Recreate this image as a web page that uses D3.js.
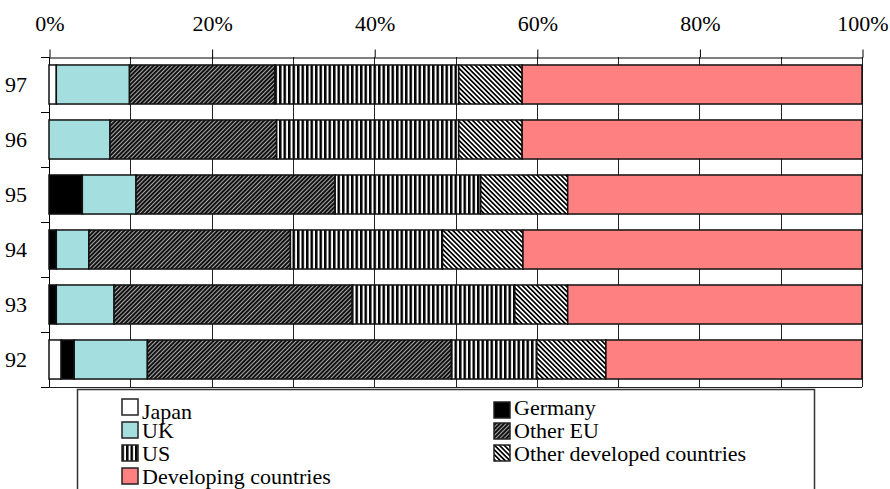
<!DOCTYPE html>
<html>
<head>
<meta charset="utf-8">
<script src="https://cdn.jsdelivr.net/npm/d3@7"></script>
<style>
  body { margin: 0; background: #fff; }
  svg text { font-family: "Liberation Serif", "Times New Roman", Times, "Nimbus Roman", "Nimbus Roman No9 L", "Noto Serif", "DejaVu Serif", FreeSerif, Tinos, serif !important; }
</style>
</head>
<body>
<svg class="barchart" width="890" height="489"></svg>
<script>
// years, top row first
var years = ['97', '96', '95', '94', '93', '92']
var series = ['Japan', 'Germany', 'UK', 'Other EU', 'US', 'Other developed countries', 'Developing countries']

// shares in % per year (same order as years)
var japan = [0.9, 0, 0, 0, 0, 1.5]
var germany = [0, 0, 4.1, 0.9, 0.9, 1.6]
var uk = [9.0, 7.5, 6.6, 4.0, 7.1, 9.0]
var otherEU = [17.9, 20.5, 24.5, 24.8, 29.3, 37.4]
var us = [22.6, 22.4, 17.9, 18.7, 20.0, 10.5]
var otherDev = [7.8, 7.8, 10.7, 9.9, 6.5, 8.5]
var developing = [41.8, 41.8, 36.2, 41.7, 36.2, 31.5]

var tickValues = [0, 20, 40, 60, 80, 100]
var gridValues = [0, 10, 20, 30, 40, 50, 60, 70, 80, 90, 100]

var data = years.map(function(y, i) {
  return {
    year: y,
    'Japan': japan[i],
    'Germany': germany[i],
    'UK': uk[i],
    'Other EU': otherEU[i],
    'US': us[i],
    'Other developed countries': otherDev[i],
    'Developing countries': developing[i]
  }
})

var fills = {
  'Japan': '#ffffff',
  'Germany': '#000000',
  'UK': '#a4dedf',
  'Other EU': 'url(#pEU)',
  'US': 'url(#pUS)',
  'Other developed countries': 'url(#pOD)',
  'Developing countries': '#ff8080'
}

const svg = d3.select('.barchart')
const plotLeft = 49, plotRight = 862, plotTop = 57, plotBottom = 387

// patterns
var defs = svg.append('defs')
var pEU = defs.append('pattern').attr('id', 'pEU')
  .attr('patternUnits', 'userSpaceOnUse').attr('width', 3).attr('height', 3)
  .attr('patternTransform', 'rotate(45)')
pEU.append('rect').attr('width', 3).attr('height', 3).attr('fill', '#111')
pEU.append('rect').attr('width', 1).attr('height', 3).attr('fill', '#aaa')

var pUS = defs.append('pattern').attr('id', 'pUS')
  .attr('patternUnits', 'userSpaceOnUse').attr('width', 4.5).attr('height', 13)
pUS.append('rect').attr('width', 4.5).attr('height', 13).attr('fill', '#fff')
pUS.append('rect').attr('width', 2.5).attr('height', 13).attr('fill', '#000')

var pOD = defs.append('pattern').attr('id', 'pOD')
  .attr('patternUnits', 'userSpaceOnUse').attr('width', 3.4).attr('height', 3.4)
  .attr('patternTransform', 'rotate(-45)')
pOD.append('rect').attr('width', 3.4).attr('height', 3.4).attr('fill', '#fff')
pOD.append('rect').attr('width', 1.7).attr('height', 3.4).attr('fill', '#000')

const xScale = d3.scaleLinear().domain([0, 100]).range([plotLeft, plotRight])
const yScale = d3.scaleBand().domain(years).range([plotTop, plotBottom])
  .paddingInner(0.29).paddingOuter(0.145)

// vertical grid lines
svg.append('g')
  .selectAll('line')
  .data(gridValues)
  .enter()
  .append('line')
  .attr('x1', d => Math.round(xScale(d)) + 0.5)
  .attr('x2', d => Math.round(xScale(d)) + 0.5)
  .attr('y1', plotTop)
  .attr('y2', plotBottom)
  .attr('stroke', '#222')
  .attr('stroke-width', 1)

// bottom frame line
svg.append('line')
  .attr('x1', plotLeft).attr('x2', plotRight)
  .attr('y1', plotBottom + 0.5).attr('y2', plotBottom + 0.5)
  .attr('stroke', '#222')

// top axis
svg.append('g')
  .attr('transform', `translate(0.5, ${plotTop + 0.5})`)
  .call(d3.axisTop(xScale).tickValues(tickValues).tickFormat(d => d + '%')
    .tickSize(8).tickSizeOuter(0).tickPadding(19))
  .attr('font-size', 22)
  .call(g => g.selectAll('text').attr('fill', '#000'))
  .call(g => g.selectAll('line, path').attr('stroke', '#000'))

// left axis line + ticks at band boundaries
svg.append('line')
  .attr('x1', plotLeft + 0.5).attr('x2', plotLeft + 0.5)
  .attr('y1', plotTop).attr('y2', plotBottom)
  .attr('stroke', '#000')
var boundaries = d3.range(years.length + 1).map(i => plotTop + i * yScale.step())
svg.append('g')
  .selectAll('line')
  .data(boundaries)
  .enter()
  .append('line')
  .attr('x1', plotLeft - 8).attr('x2', plotLeft)
  .attr('y1', d => Math.round(d) + 0.5).attr('y2', d => Math.round(d) + 0.5)
  .attr('stroke', '#000')

// year labels
svg.append('g')
  .selectAll('text')
  .data(years)
  .enter()
  .append('text')
  .attr('x', 27)
  .attr('y', d => yScale(d) + yScale.bandwidth() / 2)
  .attr('dy', '0.35em')
  .attr('text-anchor', 'end')
  .attr('font-size', 22)
  .text(d => d)

// stacked bars
var stack = d3.stack().keys(series)(data)
svg.append('g')
  .selectAll('g')
  .data(stack)
  .enter()
  .append('g')
  .attr('fill', d => fills[d.key])
  .selectAll('rect')
  .data(d => d.filter(s => s[1] - s[0] > 0))
  .enter()
  .append('rect')
  .attr('x', s => xScale(s[0]))
  .attr('y', s => yScale(s.data.year))
  .attr('width', s => xScale(s[1]) - xScale(s[0]))
  .attr('height', yScale.bandwidth())
  .attr('stroke', '#111')
  .attr('stroke-width', 1.5)

// legend
svg.append('rect')
  .attr('x', 77.5).attr('y', 389.5)
  .attr('width', 737).attr('height', 120)
  .attr('fill', 'none')
  .attr('stroke', '#333')
  .attr('stroke-width', 1.5)

var legendLeft = ['Japan', 'UK', 'US', 'Developing countries']
var legendRight = ['Germany', 'Other EU', 'Other developed countries']
var leftRows = [[399, 419], [422, 438], [445, 461], [468, 484]]
var rightRows = [[402, 415], [423, 438], [445, 461]]

function legendColumn(keys, rows, sx, tx) {
  var g = svg.append('g')
  keys.forEach(function(k, i) {
    g.append('rect')
      .attr('x', sx).attr('y', rows[i][0])
      .attr('width', 16).attr('height', 16)
      .attr('fill', fills[k])
      .attr('stroke', '#222')
      .attr('stroke-width', 1.5)
    g.append('text')
      .attr('x', tx).attr('y', rows[i][1])
      .attr('font-size', 22)
      .text(k)
  })
}
legendColumn(legendLeft, leftRows, 122, 142)
legendColumn(legendRight, rightRows, 494, 514)
</script>
</body>
</html>
